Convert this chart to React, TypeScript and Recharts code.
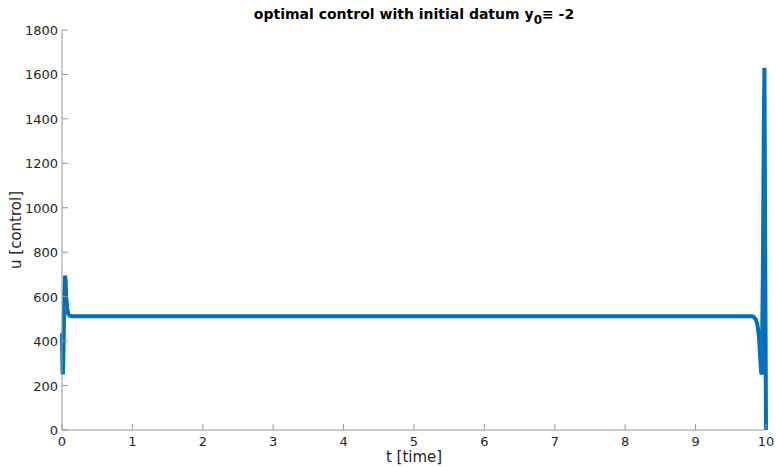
import { Line, LineChart, XAxis, YAxis } from 'recharts';

// time samples [s] and control values
const T_VALUES = [
  0, 0.004, 0.008, 0.012, 0.018, 0.026, 0.034, 0.042, 0.05, 0.06, 0.075, 0.09, 0.11, 0.14, 0.2,
  1, 2, 3, 4, 5, 6, 7, 8, 9, 9.7, 9.8, 9.83, 9.86, 9.88, 9.9, 9.915, 9.93, 9.94, 9.955, 9.97,
  9.978, 9.99, 10,
];
const U_VALUES = [
  436, 330, 262, 250, 300, 450, 620, 695, 680, 600, 545, 522, 514, 512, 512,
  512, 512, 512, 512, 512, 512, 512, 512, 512, 512, 512, 508, 495, 470, 420, 340, 260, 250, 700, 1400,
  1630, 700, 0,
];

const X_TICKS = [0, 1, 2, 3, 4, 5, 6, 7, 8, 9, 10];
const Y_TICKS = [0, 200, 400, 600, 800, 1000, 1200, 1400, 1600, 1800];

const TITLE = 'optimal control with initial datum y';
const X_LABEL = 't [time]';
const Y_LABEL = 'u [control]';

const AXIS = '#969696';
const TEXT = '#262626';
const FONT = '"DejaVu Sans", sans-serif';
const TICK_LEN = 6;

const data = T_VALUES.map((t, i) => ({ t, u: U_VALUES[i] }));

function BottomTick({ x, y, payload }: any) {
  return (
    <g>
      <line x1={x} y1={y} x2={x} y2={y - TICK_LEN} stroke={AXIS} />
      <text x={x} y={y + 16} textAnchor="middle" fontSize={13} fill={TEXT} fontFamily={FONT}>
        {payload.value}
      </text>
    </g>
  );
}

function TopTick({ x, y }: any) {
  return <line x1={x} y1={y} x2={x} y2={y + TICK_LEN} stroke={AXIS} />;
}

function LeftTick({ x, y, payload }: any) {
  return (
    <g>
      <line x1={x} y1={y} x2={x + TICK_LEN} y2={y} stroke={AXIS} />
      <text x={x - 4} y={y + 5} textAnchor="end" fontSize={13} fill={TEXT} fontFamily={FONT}>
        {payload.value}
      </text>
    </g>
  );
}

function RightTick({ x, y }: any) {
  return <line x1={x} y1={y} x2={x - TICK_LEN} y2={y} stroke={AXIS} />;
}

export default function App() {
  return (
    <div style={{ position: 'absolute', left: 0, top: 0, width: 776, height: 467, background: '#fff' }}>
      <div
        style={{
          position: 'absolute',
          left: 62,
          width: 704,
          top: 5,
          textAlign: 'center',
          fontFamily: FONT,
          fontWeight: 'bold',
          fontSize: 14,
          color: '#000',
          lineHeight: '18px',
          whiteSpace: 'nowrap',
        }}
      >
        {TITLE}
        <span style={{ fontSize: 12, position: 'relative', top: 5 }}>0</span>≡ -2
      </div>
      <LineChart width={776} height={467} data={data} margin={{ top: 30, right: 10, left: 0, bottom: 0 }}>
        <XAxis
          dataKey="t"
          type="number"
          domain={[0, 10]}
          ticks={X_TICKS}
          height={37}
          tickSize={0}
          tickMargin={0}
          stroke={AXIS}
          tick={<BottomTick />}
          label={{ value: X_LABEL, position: 'insideBottom', offset: 5, fontSize: 15, fill: TEXT, fontFamily: FONT }}
        />
        <XAxis
          xAxisId="top"
          orientation="top"
          dataKey="t"
          type="number"
          domain={[0, 10]}
          ticks={X_TICKS}
          height={0}
          tickSize={0}
          tickMargin={0}
          stroke={AXIS}
          tick={<TopTick />}
        />
        <YAxis
          type="number"
          domain={[0, 1800]}
          ticks={Y_TICKS}
          width={62}
          tickSize={0}
          tickMargin={0}
          stroke={AXIS}
          tick={<LeftTick />}
          label={{
            value: Y_LABEL,
            angle: -90,
            position: 'insideLeft',
            offset: 16,
            style: { textAnchor: 'middle' },
            fontSize: 15,
            fill: TEXT,
            fontFamily: FONT,
          }}
        />
        <YAxis
          yAxisId="right"
          orientation="right"
          type="number"
          domain={[0, 1800]}
          ticks={Y_TICKS}
          width={0}
          tickSize={0}
          tickMargin={0}
          stroke={AXIS}
          tick={<RightTick />}
        />
        <Line
          type="linear"
          dataKey="u"
          stroke="#0072BD"
          strokeWidth={4}
          dot={false}
          isAnimationActive={false}
        />
      </LineChart>
    </div>
  );
}
